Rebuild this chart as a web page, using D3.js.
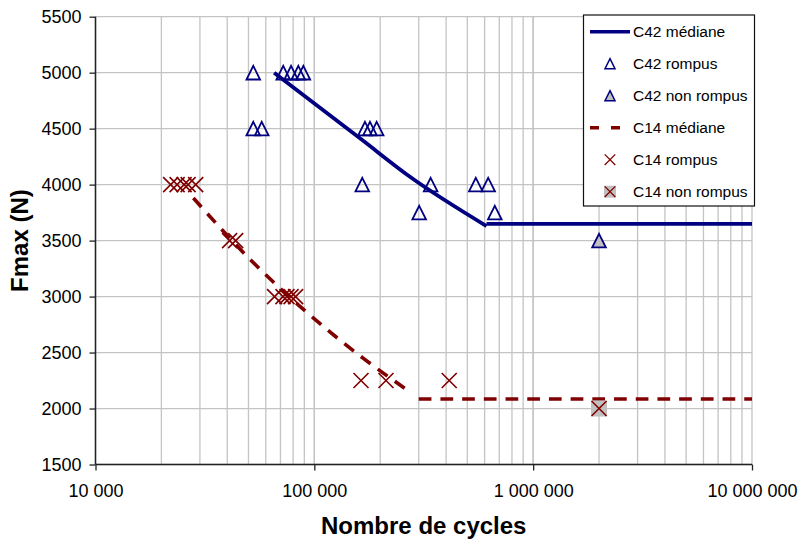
<!DOCTYPE html>
<html><head><meta charset="utf-8">
<script src="https://cdn.jsdelivr.net/npm/d3@7"></script>
<style>
html,body{margin:0;padding:0;background:#fff;}
svg{display:block;font-family:"Liberation Sans",Arial,Helvetica,sans-serif;}
</style></head>
<body>
<svg id="chart" width="800" height="540"></svg>
<script>
// ---- data ----
const xTicks = [10000, 100000, 1000000, 10000000];
const yTicks = [1500, 2000, 2500, 3000, 3500, 4000, 4500, 5000, 5500];

const c42MedianCurve = [[65500, 5000], [165000, 4400], [273500, 4070], [612000, 3630]];
const c42MedianFlat = [[612000, 3650], [10000000, 3650]];
const c42Rompus = [
  [52600, 5000], [72100, 5000], [78300, 5000], [84500, 5000], [89100, 5000],
  [52600, 4500], [57500, 4500], [170400, 4500], [179600, 4500], [192700, 4500],
  [165600, 4000], [340000, 4000], [547000, 4000], [623000, 4000],
  [301400, 3750], [668000, 3750]
];
const c42NonRompus = [[2000000, 3500]];

const c14MedianCurve = [[28000, 3880], [51000, 3330], [91000, 2870], [167000, 2450], [268000, 2160]];
const c14MedianFlat = [[300000, 2085], [10000000, 2085]];
const c14Rompus = [
  [22050, 4000], [23600, 4000], [25400, 4000], [26500, 4000], [28700, 4000],
  [41000, 3500], [43700, 3500],
  [65800, 3000], [71900, 3000], [75000, 3000], [78300, 3000], [82100, 3000],
  [163400, 2250], [212500, 2250], [413400, 2250]
];
const c14NonRompus = [[2000000, 2000]];

const legendLabels = ["C42 médiane", "C42 rompus", "C42 non rompus", "C14 médiane", "C14 rompus", "C14 non rompus"];

// ---- drawing ----
const navy = "#000080", maroon = "#800000", grey = "#c0c0c0";
const svg = d3.select("#chart");
const L = 95.5, R = 752, T = 16.7, B = 464.5;
const x = d3.scaleLog().domain([1e4, 1e7]).range([L, R]);
const y = d3.scaleLinear().domain([1500, 5500]).range([B, T]);
const loc = d3.formatLocale({decimal: ",", thousands: " ", grouping: [3], currency: ["", ""]});
const fmt = loc.format(",d");

// grid
const minor = [];
for (let d = 4; d < 7; d++) for (let m = 1; m <= 10; m++) minor.push(m * Math.pow(10, d));
const gx = svg.append("g");
gx.selectAll("line.v").data(minor).enter().append("line")
  .attr("x1", d => x(d)).attr("x2", d => x(d)).attr("y1", T).attr("y2", B)
  .attr("stroke", "#c4c4c4").attr("stroke-width", 1.3);
gx.selectAll("line.h").data(yTicks).enter().append("line")
  .attr("x1", L).attr("x2", R).attr("y1", d => y(d)).attr("y2", d => y(d))
  .attr("stroke", "#c4c4c4").attr("stroke-width", 1.3);

// axes
const xAxis = d3.axisBottom(x).tickValues(xTicks).tickFormat(fmt).tickSize(6).tickPadding(14);
const yAxis = d3.axisLeft(y).tickValues(yTicks).tickFormat(d3.format("d")).tickSize(6).tickPadding(8);
const gxa = svg.append("g").attr("transform", `translate(0,${B})`).call(xAxis);
const gya = svg.append("g").attr("transform", `translate(${L},0)`).call(yAxis);
[gxa, gya].forEach(g => {
  g.select(".domain").attr("stroke", "#222").attr("stroke-width", 1.5);
  g.selectAll(".tick line").attr("stroke", "#222").attr("stroke-width", 1.3);
  g.selectAll("text").attr("fill", "#000").attr("font-size", 18)
    .attr("font-family", "'Liberation Sans', Arial, sans-serif");
});
gya.select(".domain").attr("d", `M0,${T}V${B}`);
gxa.select(".domain").attr("d", `M${L},0H${R}`);

// axis titles
svg.append("text").attr("x", (L + R) / 2).attr("y", 534).attr("text-anchor", "middle")
  .attr("font-size", 24).attr("font-weight", "bold").text("Nombre de cycles");
svg.append("text").attr("transform", `translate(28,${(T + B) / 2}) rotate(-90)`)
  .attr("text-anchor", "middle").attr("font-size", 24).attr("font-weight", "bold").text("Fmax (N)");

// lines
const lineCurve = d3.line().x(d => x(d[0])).y(d => y(d[1])).curve(d3.curveMonotoneX);
const lineLin = d3.line().x(d => x(d[0])).y(d => y(d[1]));
svg.append("path").attr("d", lineCurve(c42MedianCurve)).attr("fill", "none")
  .attr("stroke", navy).attr("stroke-width", 3.8);
svg.append("path").attr("d", lineLin(c42MedianFlat)).attr("fill", "none")
  .attr("stroke", navy).attr("stroke-width", 3.8);
svg.append("path").attr("d", lineCurve(c14MedianCurve)).attr("fill", "none")
  .attr("stroke", maroon).attr("stroke-width", 3.6).attr("stroke-dasharray", "12,9");
svg.append("path").attr("d", lineLin(c14MedianFlat)).attr("fill", "none")
  .attr("stroke", maroon).attr("stroke-width", 3.6).attr("stroke-dasharray", "12.7,9");

// markers
function tri(s) { return `M0,${-s}L${s},${s}L${-s},${s}Z`; }
function cross(s) { return `M${-s},${-s}L${s},${s}M${-s},${s}L${s},${-s}`; }

svg.append("g").selectAll("path").data(c42Rompus).enter().append("path")
  .attr("transform", d => `translate(${x(d[0])},${y(d[1])})`)
  .attr("d", tri(6.8)).attr("fill", "none").attr("stroke", navy).attr("stroke-width", 1.8);
svg.append("g").selectAll("path").data(c42NonRompus).enter().append("path")
  .attr("transform", d => `translate(${x(d[0])},${y(d[1])})`)
  .attr("d", tri(6.8)).attr("fill", grey).attr("stroke", navy).attr("stroke-width", 1.8);

svg.append("g").selectAll("path").data(c14Rompus).enter().append("path")
  .attr("transform", d => `translate(${x(d[0])},${y(d[1])})`)
  .attr("d", cross(7.5)).attr("fill", "none").attr("stroke", maroon).attr("stroke-width", 1.6);
const nr = svg.append("g").selectAll("g").data(c14NonRompus).enter().append("g")
  .attr("transform", d => `translate(${x(d[0])},${y(d[1])})`);
nr.append("rect").attr("x", -8).attr("y", -8).attr("width", 16).attr("height", 16).attr("fill", grey);
nr.append("path").attr("d", cross(7.5)).attr("fill", "none").attr("stroke", maroon).attr("stroke-width", 1.6);

// legend
const lg = svg.append("g");
lg.append("rect").attr("x", 583.5).attr("y", 15).attr("width", 171).attr("height", 191)
  .attr("fill", "#fff").attr("stroke", "#111").attr("stroke-width", 1.2);
const rowY = i => 31.7 + i * 32;
const mx = 610;
lg.append("line").attr("x1", 590).attr("x2", 630).attr("y1", rowY(0)).attr("y2", rowY(0))
  .attr("stroke", navy).attr("stroke-width", 3.5);
lg.append("path").attr("transform", `translate(${mx},${rowY(1)})`).attr("d", tri(5))
  .attr("fill", "none").attr("stroke", navy).attr("stroke-width", 1.5);
lg.append("path").attr("transform", `translate(${mx},${rowY(2)})`).attr("d", tri(5))
  .attr("fill", grey).attr("stroke", navy).attr("stroke-width", 1.5);
lg.append("line").attr("x1", 590).attr("x2", 630).attr("y1", rowY(3)).attr("y2", rowY(3))
  .attr("stroke", maroon).attr("stroke-width", 3.5).attr("stroke-dasharray", "9,12");
lg.append("path").attr("transform", `translate(${mx},${rowY(4)})`).attr("d", cross(5.3))
  .attr("fill", "none").attr("stroke", maroon).attr("stroke-width", 1.3);
lg.append("rect").attr("x", mx - 6).attr("y", rowY(5) - 6).attr("width", 12).attr("height", 12).attr("fill", grey);
lg.append("path").attr("transform", `translate(${mx},${rowY(5)})`).attr("d", cross(5.3))
  .attr("fill", "none").attr("stroke", maroon).attr("stroke-width", 1.3);
lg.selectAll("text").data(legendLabels).enter().append("text")
  .attr("x", 633).attr("y", (d, i) => rowY(i)).attr("dy", "0.36em")
  .attr("font-size", 15.5).attr("fill", "#000").text(d => d);
</script>
</body></html>
